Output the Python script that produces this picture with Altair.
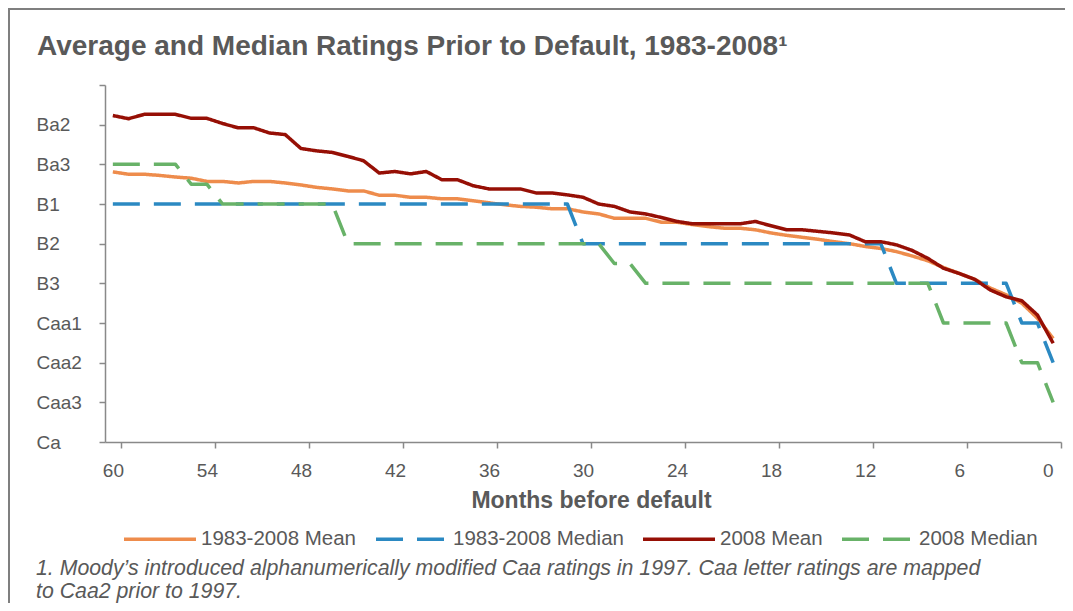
import altair as alt
import pandas as pd

# ---- data ----
months = list(range(60, -1, -1))

mean_1983_2008 = [
    13.19, 13.25, 13.25, 13.28, 13.32, 13.35, 13.43, 13.43, 13.47, 13.43,
    13.43, 13.47, 13.52, 13.58, 13.62, 13.67, 13.67, 13.78, 13.78, 13.83,
    13.83, 13.87, 13.87, 13.92, 13.97, 14.02, 14.06, 14.08, 14.12, 14.12,
    14.20, 14.25, 14.36, 14.36, 14.36, 14.46, 14.46, 14.52, 14.57, 14.61,
    14.61, 14.65, 14.73, 14.79, 14.84, 14.89, 14.95, 15.00, 15.07, 15.12,
    15.20, 15.31, 15.43, 15.60, 15.75, 15.90, 16.12, 16.29, 16.50, 16.88,
    17.39,
]
median_1983_2008 = (
    [14] * 30 +      # 60..31
    [15] * 20 +      # 30..11
    [16] * 8 +       # 10..3
    [17] * 2 +       # 2..1
    [18]             # 0
)
mean_2008 = [
    11.77, 11.85, 11.74, 11.74, 11.74, 11.84, 11.84, 11.97, 12.08, 12.08,
    12.21, 12.25, 12.60, 12.66, 12.70, 12.80, 12.91, 13.22, 13.18, 13.24,
    13.18, 13.39, 13.39, 13.54, 13.62, 13.62, 13.62, 13.72, 13.72, 13.77,
    13.83, 14.00, 14.06, 14.20, 14.25, 14.34, 14.44, 14.50, 14.50, 14.50,
    14.50, 14.44, 14.55, 14.65, 14.65, 14.69, 14.73, 14.78, 14.95, 14.95,
    15.03, 15.17, 15.37, 15.62, 15.75, 15.90, 16.17, 16.34, 16.44, 16.80,
    17.51,
]
median_2008 = (
    [13] * 5 +       # 60..56
    [13.5] * 2 +     # 55..54
    [14] * 8 +       # 53..46
    [15] * 17 +      # 45..29
    [15.5] * 2 +     # 28..27
    [16] * 19 +      # 26..8
    [17] * 5 +       # 7..3
    [18] * 2 +       # 2..1
    [19]             # 0
)

series_names = ["1983-2008 Mean", "1983-2008 Median", "2008 Mean", "2008 Median"]
series_colors = ["#EE8C4C", "#2B89C2", "#960F05", "#68B268"]
series_dashes = [[1, 0], [27, 14], [1, 0], [27, 14]]

rating_values = list(range(11, 21))
rating_labels = ["", "Ba2", "Ba3", "B1", "B2", "B3", "Caa1", "Caa2", "Caa3", "Ca"]
x_tick_labels = [60, 54, 48, 42, 36, 30, 24, 18, 12, 6, 0]

title_text = "Average and Median Ratings Prior to Default, 1983-2008\u00b9"
x_title = "Months before default"
footnote_lines = [
    "1. Moody\u2019s introduced alphanumerically modified Caa ratings in 1997. Caa letter ratings are mapped",
    "to Caa2 prior to 1997.",
]

# ---- table ----
rows = []
for name, vals in zip(series_names, [mean_1983_2008, median_1983_2008, mean_2008, median_2008]):
    for m, v in zip(months, vals):
        rows.append({"month": m, "rating": v, "series": name})
df = pd.DataFrame(rows)

FONT = "Liberation Sans"
TXT = "#595959"
AX = "#898989"
W, H = 956, 357

label_array = "[" + ",".join("'" + s + "'" for s in rating_labels) + "]"
x_tick_positions = [v - 0.5 for v in x_tick_labels]

lines = alt.Chart(df).mark_line(strokeWidth=3.5, strokeJoin="round").encode(
    x=alt.X(
        "month:Q",
        scale=alt.Scale(domain=[-0.5, 60.5], reverse=True, nice=False, zero=False),
        axis=alt.Axis(
            values=x_tick_positions,
            labelExpr="round(datum.value + 0.5)",
            labelOffset=-7.8,
            labelPadding=13,
            labelFontSize=19,
            title=x_title,
            titleFontSize=23,
            titleFontWeight="bold",
            titleColor=TXT,
            titleFont=FONT,
            titlePadding=9,
            titleX=486,
            grid=False,
        ),
    ),
    y=alt.Y(
        "rating:Q",
        scale=alt.Scale(domain=[11, 20], reverse=True, nice=False, zero=False),
        axis=alt.Axis(
            values=rating_values,
            labelExpr=label_array + "[datum.value - 11]",
            labelAlign="left",
            labelBaseline="middle",
            labelPadding=63,
            labelFontSize=19,
            title=None,
            grid=False,
        ),
    ),
    color=alt.Color(
        "series:N",
        scale=alt.Scale(domain=series_names, range=series_colors),
        legend=alt.Legend(title=None),
    ),
    strokeDash=alt.StrokeDash(
        "series:N",
        scale=alt.Scale(domain=series_names, range=series_dashes),
        legend=alt.Legend(title=None),
    ),
)

one = pd.DataFrame({"k": [0]})
frame_top = alt.Chart(one).mark_rule(color="#7F7F7F", strokeWidth=2).encode(
    x=alt.value(-97), x2=alt.value(W + 10), y=alt.value(-76)
)
frame_left = alt.Chart(one).mark_rule(color="#7F7F7F", strokeWidth=2).encode(
    x=alt.value(-96), y=alt.value(-77), y2=alt.value(H + 170)
)
title = alt.Chart(one).mark_text(
    text=title_text,
    align="left",
    baseline="alphabetic",
    font=FONT,
    fontSize=28,
    fontWeight="bold",
    color=TXT,
).encode(x=alt.value(-68), y=alt.value(-30))
footnote = alt.Chart(one).mark_text(
    text=footnote_lines,
    align="left",
    baseline="alphabetic",
    font=FONT,
    fontSize=21.3,
    fontStyle="italic",
    color=TXT,
    lineHeight=23,
).encode(x=alt.value(-69), y=alt.value(490))

chart = alt.layer(frame_top, frame_left, title, lines, footnote).properties(
    width=W,
    height=H,
    padding={"left": 97, "top": 77, "right": 4, "bottom": 161},
    autosize=alt.AutoSizeParams(type="none"),
).configure_view(stroke="transparent").configure_axis(
    domainColor=AX,
    domainWidth=1.5,
    tickColor=AX,
    tickWidth=1.5,
    tickSize=6,
    labelColor=TXT,
    labelFont=FONT,
).configure_legend(
    orient="none",
    legendX=17,
    legendY=416,
    direction="horizontal",
    padding=0,
    symbolType="stroke",
    symbolSize=5184,
    symbolStrokeWidth=3.5,
    labelFont=FONT,
    labelFontSize=20.5,
    labelColor=TXT,
    labelOffset=3,
    labelLimit=400,
    columnPadding=12,
)

chart.save("out.html", embed_options={"renderer": "svg", "actions": False})
